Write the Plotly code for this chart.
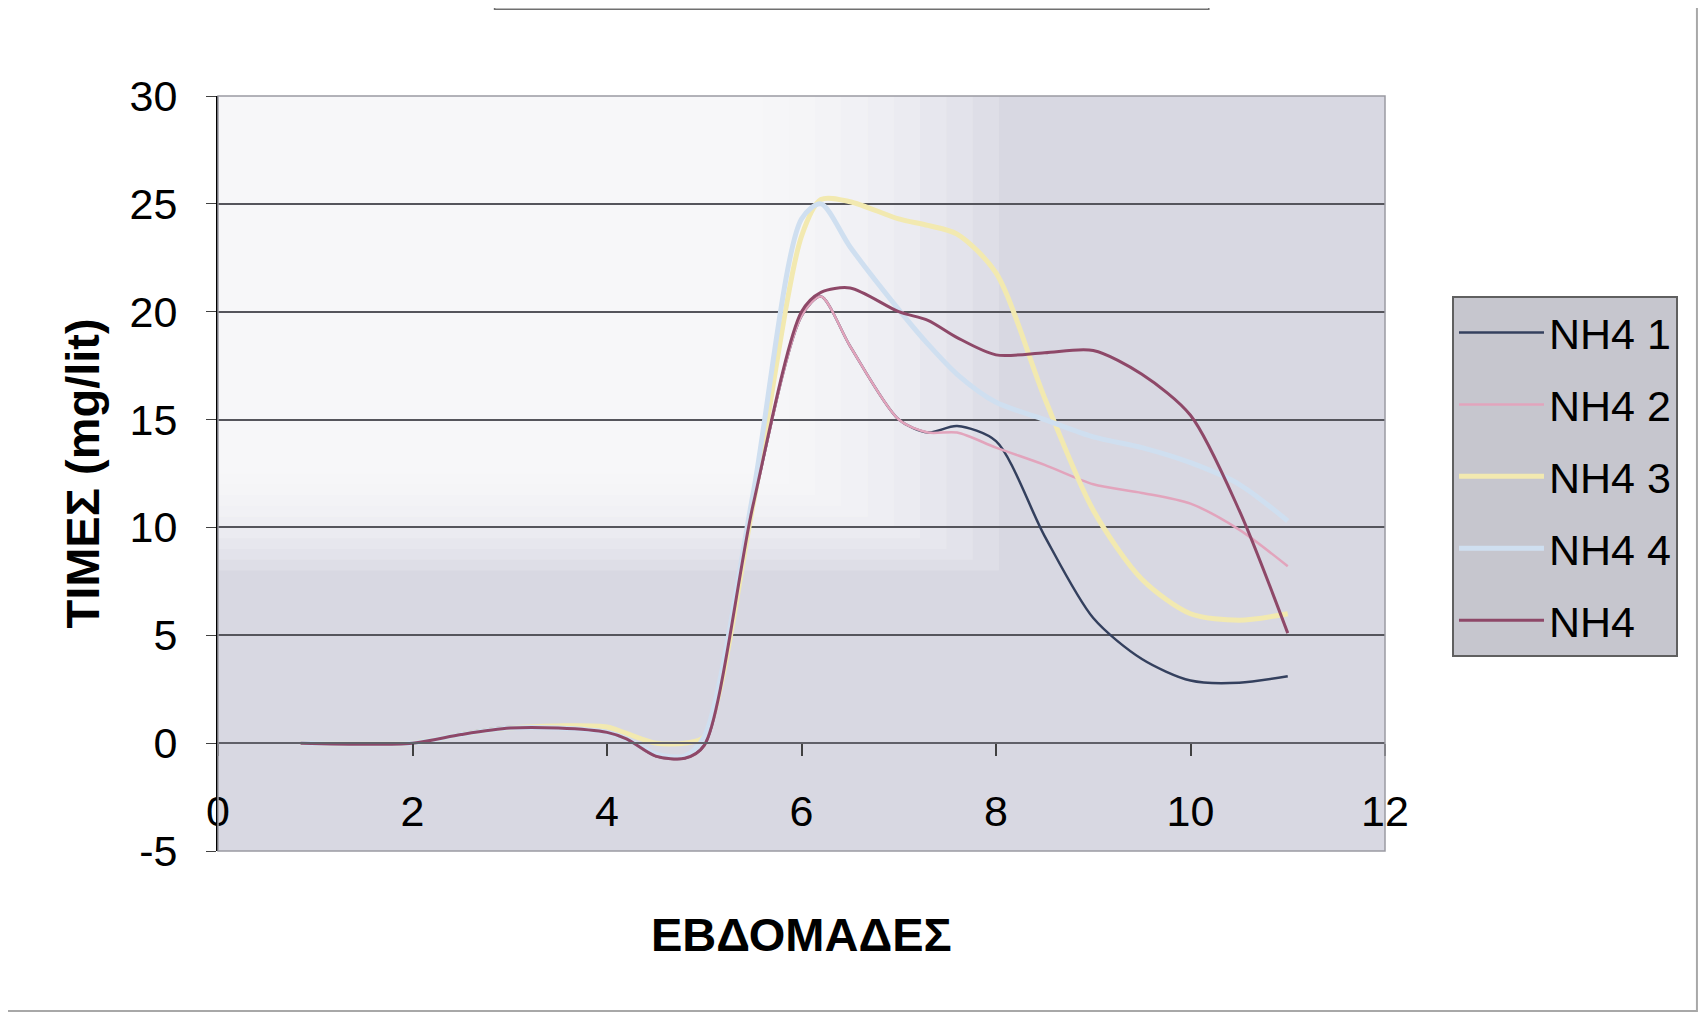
import plotly.graph_objects as go

# weeks and NH4 readings (mg/lit)
weeks = [0.85, 2, 2.5, 3, 3.5, 4, 4.2, 4.5, 4.8, 5, 5.5, 6, 6.2, 6.5, 7, 7.3, 7.6, 8, 8.5, 9, 9.5, 10, 10.5, 11]

nh4_1 = [0, 0, 0.45, 0.75, 0.7, 0.5, 0.2, -0.6, -0.7, -0.1, 11.0, 19.8, 20.7, 18.4, 15.0, 14.4, 14.7, 14.0, 9.6, 5.8, 3.9, 2.9, 2.8, 3.1]
nh4_2 = [0, 0, 0.4, 0.7, 0.7, 0.5, 0.2, -0.6, -0.7, -0.1, 11.0, 19.8, 20.7, 18.4, 15.0, 14.4, 14.4, 13.7, 12.9, 12.0, 11.6, 11.1, 9.9, 8.2]
nh4_3 = [0, 0, 0.4, 0.7, 0.8, 0.75, 0.45, 0.0, 0.0, 0.3, 11.0, 23.5, 25.2, 25.1, 24.3, 24.0, 23.6, 21.8, 16.0, 10.8, 7.6, 6.0, 5.7, 6.0]
nh4_4 = [0, 0, 0.4, 0.7, 0.7, 0.5, 0.2, -0.5, -0.6, 0.3, 11.5, 24.3, 25.0, 23.0, 20.1, 18.5, 17.1, 15.8, 15.0, 14.2, 13.7, 13.0, 12.0, 10.3]
nh4_5 = [0, 0, 0.4, 0.7, 0.7, 0.5, 0.2, -0.6, -0.7, -0.1, 11.0, 20.0, 20.9, 21.1, 20.0, 19.6, 18.8, 18.0, 18.1, 18.2, 17.1, 15.2, 10.8, 5.1]

names = ["NH4 1", "NH4 2", "NH4 3", "NH4 4", "NH4"]
series = [nh4_1, nh4_2, nh4_3, nh4_4, nh4_5]

x_ticks = [0, 2, 4, 6, 8, 10, 12]
y_ticks = [-5, 0, 5, 10, 15, 20, 25, 30]

colors = ["#34405e", "#e2a4bc", "#f2e9b0", "#cfdff0", "#8e4868"]
widths = [2.5, 2.5, 5, 5, 3]

FONT = "Liberation Sans, Arial, sans-serif"

fig = go.Figure()
for name, vals, col, w in zip(names, series, colors, widths):
    fig.add_trace(go.Scatter(x=weeks, y=vals, name=name, mode="lines",
                             line=dict(color=col, width=w, shape="spline", smoothing=0.8),
                             legendgroup=name))

# plot area background: gray, fading to white in the upper left part
shapes = []
for k in range(10):
    shapes.append(dict(type="rect", xref="x", yref="y", layer="below",
                       x0=0, x1=5.6 + 0.27 * k, y0=12.5 - 0.5 * k, y1=30,
                       fillcolor="white", opacity=0.17, line=dict(width=0)))
# plot area border
shapes.append(dict(type="rect", xref="paper", yref="paper", x0=0, x1=1, y0=0, y1=1,
                   line=dict(color="#9a9aa2", width=1.5), layer="above"))
# outer chart border
shapes.append(dict(type="rect", xref="paper", yref="paper", x0=-0.19, x1=1.2673, y0=-0.212, y1=1.2,
                   line=dict(color="#a8a8a8", width=2)))
# cut-off title box at the top
shapes.append(dict(type="rect", xref="paper", yref="paper", x0=0.237, x1=0.849, y0=1.115, y1=1.25,
                   line=dict(color="#707070", width=1.5)))

fig.update_layout(
    width=1691, height=1005,
    margin=dict(l=210, r=314, t=88, b=162),
    paper_bgcolor="white",
    plot_bgcolor="#d8d8e2",
    font=dict(family=FONT, size=43, color="black"),
    showlegend=True,
    legend=dict(x=1.0574, y=0.735, xanchor="left", yanchor="top",
                bgcolor="#c6c6ce", bordercolor="#606060", borderwidth=2,
                font=dict(family=FONT, size=43, color="black"),
                itemwidth=85, tracegroupgap=13, traceorder="grouped",
                entrywidth=205),
    shapes=shapes,
    annotations=[
        dict(text="<b>ΤΙΜΕΣ (mg/lit)</b>", xref="paper", yref="paper", x=-0.1165, y=0.5,
             xanchor="center", yanchor="middle",
             textangle=-90, showarrow=False, font=dict(family=FONT, size=47)),
        dict(text="<b>ΕΒΔΟΜΑΔΕΣ</b>", xref="paper", yref="paper", x=0.5, y=-0.11,
             xanchor="center", yanchor="middle",
             showarrow=False, font=dict(family=FONT, size=47)),
    ],
)

fig.update_xaxes(range=[0, 12], tickvals=x_ticks, ticktext=[str(v) for v in x_ticks],
                 anchor="free", position=5 / 35,
                 showgrid=False, zeroline=False, showline=True, linecolor="#606068", linewidth=1.5,
                 ticks="outside", ticklen=12, tickcolor="#404040", tickwidth=1.5,
                 ticklabelstandoff=19, tickfont=dict(family=FONT, size=43))
fig.update_yaxes(range=[-5, 30], tickvals=y_ticks, ticktext=[str(v) for v in y_ticks],
                 showgrid=True, gridcolor="#55555c", gridwidth=1.5, zeroline=False,
                 showline=True, linecolor="black", linewidth=2,
                 ticks="outside", ticklen=10, tickcolor="#404040",
                 ticklabelstandoff=20, tickfont=dict(family=FONT, size=43))

fig.write_html("out.html")
